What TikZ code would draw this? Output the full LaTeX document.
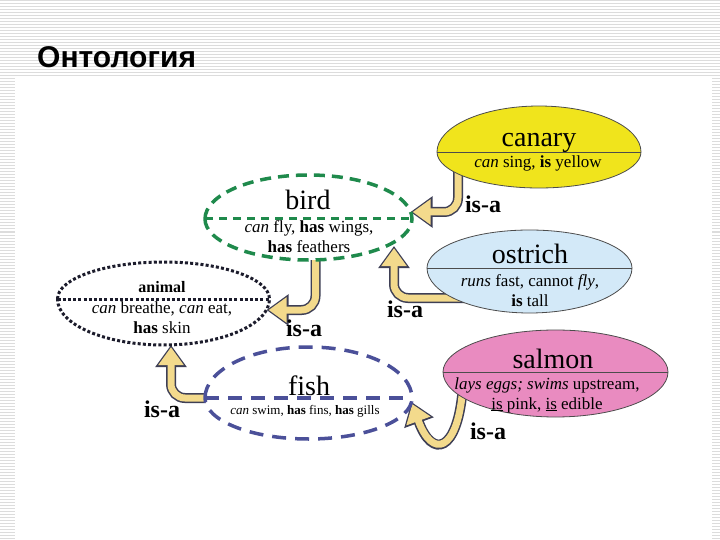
\documentclass[tikz,border=0pt]{standalone}
\usepackage{fontspec}
\setmainfont{Liberation Serif}
\newfontfamily\titlefont{Liberation Sans}
\usepackage{xcolor}
\usetikzlibrary{positioning, arrows.meta, backgrounds}

\definecolor{canaryfill}{HTML}{F0E41C}
\definecolor{ostrichfill}{HTML}{D3E9F8}
\definecolor{salmonfill}{HTML}{E98BC0}
\definecolor{birdgreen}{HTML}{1F8A4C}
\definecolor{fishblue}{HTML}{4B5099}
\definecolor{animalink}{HTML}{1C1C2C}
\definecolor{isafill}{HTML}{F3DA8C}
\definecolor{isaline}{HTML}{3E3F55}
\definecolor{stripe}{HTML}{DCDCDC}

\begin{document}
\begin{tikzpicture}[
  x=1pt, y=-1pt,
  leaf/.style={draw=black!70, line width=0.8pt},
  birdline/.style={draw=birdgreen, line width=3.5pt, dash pattern=on 11pt off 7pt},
  fishline/.style={draw=fishblue, line width=3.5pt, dash pattern=on 14pt off 9pt},
  animalline/.style={draw=animalink, line width=3pt, dash pattern=on 3pt off 2.2pt},
  bigname/.style={font=\fontsize{28}{28}\selectfont, anchor=base, inner sep=0pt},
  facts/.style={font=\fontsize{17}{20}\selectfont, anchor=base, align=center, inner sep=0pt},
  isaout/.style={draw=isaline, line width=10pt, rounded corners=14pt,
                 -{Triangle[length=22pt, width=30pt]}},
  isain/.style={draw=isafill, line width=7pt, rounded corners=14pt, shorten >=2.2pt,
                -{Triangle[length=18pt, width=24.5pt]}},
  lbl/.style={font=\bfseries\fontsize{24}{24}\selectfont, inner sep=0pt}
]
\useasboundingbox (0,0) rectangle (720,540);

% Title
\node[anchor=base west, inner sep=0pt, font=\titlefont\bfseries\fontsize{30}{30}\selectfont]
  (title) at (37,68) {Онтология};

% Centres of the split lines
\coordinate (canary) at (539,152);
\coordinate (ostrich) at (529.5,268);
\coordinate (salmon) at (555.5,372);
\coordinate (bird) at (308.5,219);
\coordinate (fish) at (308.5,398);
\coordinate (animal) at (163.5,299);

% Leaves: canary, ostrich, salmon
\filldraw[leaf, fill=canaryfill] ([xshift=-102pt]canary)
  arc[start angle=180, end angle=360, x radius=102, y radius=46]
  arc[start angle=0, end angle=180, x radius=102, y radius=36] -- cycle;
\draw[leaf] ([xshift=-102pt]canary) -- ([xshift=102pt]canary);
\filldraw[leaf, fill=ostrichfill] ([xshift=-102.5pt]ostrich)
  arc[start angle=180, end angle=360, x radius=102.5, y radius=38]
  arc[start angle=0, end angle=180, x radius=102.5, y radius=45] -- cycle;
\draw[leaf] ([xshift=-102.5pt]ostrich) -- ([xshift=102.5pt]ostrich);
\filldraw[leaf, fill=salmonfill] ([xshift=-112.5pt]salmon)
  arc[start angle=180, end angle=360, x radius=112.5, y radius=42]
  arc[start angle=0, end angle=180, x radius=112.5, y radius=45] -- cycle;
\draw[leaf] ([xshift=-112.5pt]salmon) -- ([xshift=112.5pt]salmon);

% Classes: bird, fish, animal
\filldraw[birdline, fill=white] ([xshift=-103.5pt]bird)
  arc[start angle=180, end angle=360, x radius=103.5, y radius=44]
  arc[start angle=0, end angle=180, x radius=103.5, y radius=41];
\draw[birdline, line width=3pt, dash pattern=on 8pt off 6pt]
  ([xshift=-103.5pt]bird) -- ([xshift=103.5pt]bird);
\filldraw[fishline, fill=white] ([xshift=-103.5pt]fish)
  arc[start angle=180, end angle=360, x radius=103.5, y radius=51]
  arc[start angle=0, end angle=180, x radius=103.5, y radius=41];
\draw[fishline] ([xshift=-103.5pt]fish) -- ([xshift=103.5pt]fish);
\filldraw[animalline, fill=white] ([xshift=-106pt]animal)
  arc[start angle=180, end angle=360, x radius=106, y radius=37]
  arc[start angle=0, end angle=180, x radius=106, y radius=46];
\draw[animalline] ([xshift=-106pt]animal) -- ([xshift=106pt]animal);

% Texts
\node[bigname] (canaryname) at (539,147) {canary};
\node[facts] (canaryfacts) at (538,168) {\textit{can} sing, \textbf{is} yellow};
\node[bigname] (birdname) at (308,210) {bird};
\node[facts] (birdfacts) at (309,252) {\textit{can} fly, \textbf{has} wings,\\\textbf{has} feathers};
\node[bigname] (ostrichname) at (530,263) {ostrich};
\node[facts] (ostrichfacts) at (530,306) {\textit{runs} fast, cannot \textit{fly},\\\textbf{is} tall};
\node[facts, font=\bfseries\fontsize{16}{16}\selectfont] (animalname) at (162,292) {animal};
\node[facts] (animalfacts) at (162,333) {\textit{can} breathe, \textit{can} eat,\\\textbf{has} skin};
\node[bigname] (fishname) at (309,395) {fish};
\node[facts, font=\fontsize{13}{15}\selectfont] (fishfacts) at (305,414) {\textit{can} swim, \textbf{has} fins, \textbf{has} gills};
\node[bigname] (salmonname) at (553,368) {salmon};
\node[facts] (salmonfacts) at (547,409) {\textit{lays eggs; swims} upstream,\\\underline{is} pink, \underline{is} edible};

\begin{scope}[on background layer]
  % striped slide and white panel
  \foreach \y in {1,4,...,539}
    \draw[stripe, line width=1pt] (0,\y) -- (720,\y);
  \fill[white] (15,76) rectangle (712,540);

  % is-a arrows
  \draw[isaout] ([xshift=-81pt]canary) |- ([xshift=102pt, yshift=7pt]bird);
  \draw[isain]  ([xshift=-81pt]canary) |- ([xshift=102pt, yshift=7pt]bird);
  \draw[isaout] ([yshift=-30pt]ostrich) -| ([xshift=85.5pt, yshift=-27pt]bird);
  \draw[isain]  ([yshift=-30pt]ostrich) -| ([xshift=85.5pt, yshift=-27pt]bird);
  \draw[isaout] ([xshift=7pt]bird) |- ([xshift=103pt, yshift=-11pt]animal);
  \draw[isain]  ([xshift=7pt]bird) |- ([xshift=103pt, yshift=-11pt]animal);
  \draw[isaout] (fish) -| ([xshift=7.5pt, yshift=-46pt]animal);
  \draw[isain]  (fish) -| ([xshift=7.5pt, yshift=-46pt]animal);
  \draw[isaout] ([xshift=-93pt, yshift=-19pt]salmon) to[out=-95, in=-70, looseness=3]
    ([xshift=103pt, yshift=-4pt]fish);
  \draw[isain]  ([xshift=-93pt, yshift=-19pt]salmon) to[out=-95, in=-70, looseness=3]
    ([xshift=103pt, yshift=-4pt]fish);
\end{scope}

% Labels
\node[lbl] (isa1) at (483,204) {is-a};
\node[lbl] (isa2) at (405,309) {is-a};
\node[lbl] (isa3) at (304,328) {is-a};
\node[lbl] (isa4) at (162,409) {is-a};
\node[lbl] (isa5) at (488,431) {is-a};
\end{tikzpicture}
\end{document}
